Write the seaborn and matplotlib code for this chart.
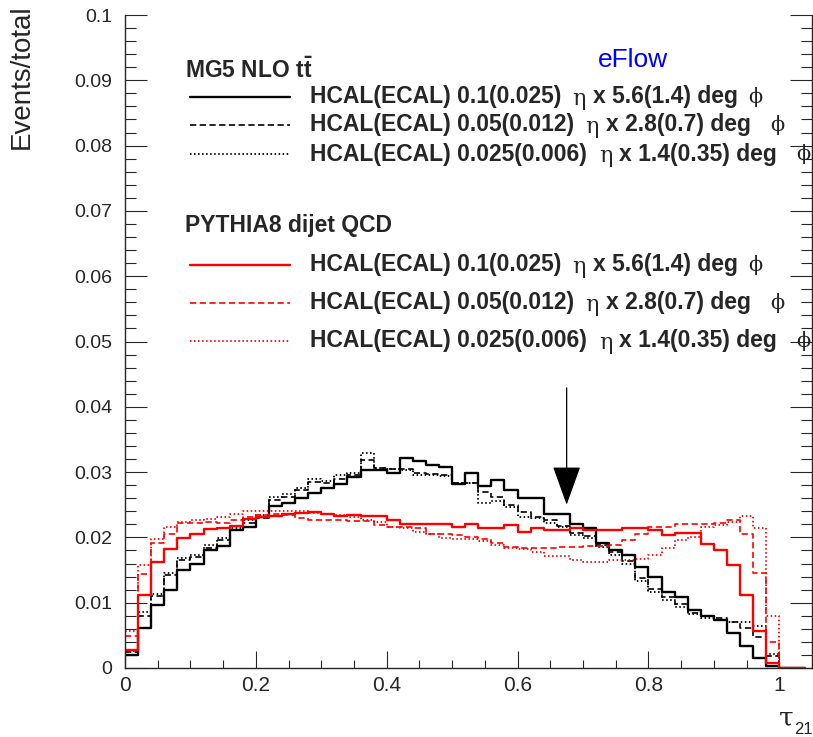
import numpy as np
import pandas as pd
import matplotlib
matplotlib.use("Agg")
import matplotlib.pyplot as plt
import seaborn as sns
from matplotlib.lines import Line2D
from matplotlib.patches import FancyArrowPatch
from matplotlib.ticker import MultipleLocator, FixedLocator, FixedFormatter

# ---------------- data (bin contents, bins of width 0.02 from 0 to 1.04) ----------------
bin_width = 0.02
n_bins = 52

mg5_coarse = [0.0020, 0.0061, 0.0097, 0.0120, 0.0150, 0.0160, 0.0180, 0.0187, 0.0212, 0.0216,
              0.0232, 0.0248, 0.0252, 0.0260, 0.0268, 0.0276, 0.0282, 0.0293, 0.0303, 0.0303,
              0.0299, 0.0322, 0.0317, 0.0311, 0.0308, 0.0282, 0.0299, 0.0279, 0.0288, 0.0272,
              0.0261, 0.0261, 0.0236, 0.0236, 0.0220, 0.0214, 0.0192, 0.0180, 0.0173, 0.0154,
              0.0140, 0.0117, 0.0109, 0.0089, 0.0079, 0.0074, 0.0053, 0.0034, 0.0016, 0.0003,
              0.0, 0.0]
mg5_medium = [0.0025, 0.0079, 0.0110, 0.0142, 0.0165, 0.0170, 0.0184, 0.0196, 0.0211, 0.0222,
              0.0230, 0.0258, 0.0262, 0.0272, 0.0285, 0.0284, 0.0290, 0.0296, 0.0318, 0.0306,
              0.0305, 0.0304, 0.0298, 0.0297, 0.0295, 0.0283, 0.0283, 0.0270, 0.0262, 0.0250,
              0.0239, 0.0232, 0.0226, 0.0218, 0.0206, 0.0202, 0.0188, 0.0177, 0.0164, 0.0138,
              0.0121, 0.0108, 0.0098, 0.0084, 0.0080, 0.0076, 0.0070, 0.0062, 0.0047, 0.0018,
              0.0, 0.0]
mg5_fine = [0.0026, 0.0086, 0.0114, 0.0146, 0.0168, 0.0173, 0.0188, 0.0199, 0.0214, 0.0227,
            0.0234, 0.0262, 0.0266, 0.0276, 0.0290, 0.0286, 0.0296, 0.0298, 0.0330, 0.0307,
            0.0305, 0.0303, 0.0296, 0.0296, 0.0294, 0.0283, 0.0283, 0.0253, 0.0255, 0.0247,
            0.0231, 0.0229, 0.0222, 0.0216, 0.0203, 0.0199, 0.0186, 0.0173, 0.0160, 0.0133,
            0.0116, 0.0104, 0.0093, 0.0082, 0.0077, 0.0073, 0.0071, 0.0071, 0.0065, 0.0022,
            0.0, 0.0]
pythia_coarse = [0.0028, 0.0112, 0.0163, 0.0182, 0.0199, 0.0205, 0.0213, 0.0214, 0.0217, 0.0228,
                 0.0231, 0.0233, 0.0236, 0.0238, 0.0239, 0.0236, 0.0233, 0.0234, 0.0233, 0.0233,
                 0.0227, 0.0221, 0.0221, 0.0221, 0.0221, 0.0216, 0.0220, 0.0214, 0.0214, 0.0219,
                 0.0209, 0.0214, 0.0211, 0.0211, 0.0215, 0.0212, 0.0211, 0.0211, 0.0215, 0.0214,
                 0.0212, 0.0204, 0.0207, 0.0207, 0.0190, 0.0180, 0.0158, 0.0112, 0.0056, 0.0008,
                 0.0, 0.0]
pythia_medium = [0.0049, 0.0144, 0.0192, 0.0205, 0.0222, 0.0222, 0.0224, 0.0222, 0.0227, 0.0232,
                 0.0235, 0.0236, 0.0234, 0.0230, 0.0227, 0.0226, 0.0227, 0.0225, 0.0225, 0.0219,
                 0.0216, 0.0216, 0.0214, 0.0205, 0.0205, 0.0204, 0.0201, 0.0197, 0.0191, 0.0186,
                 0.0184, 0.0184, 0.0184, 0.0186, 0.0186, 0.0187, 0.0187, 0.0188, 0.0196, 0.0205,
                 0.0216, 0.0216, 0.0220, 0.0221, 0.0221, 0.0222, 0.0226, 0.0205, 0.0145, 0.0040,
                 0.0, 0.0]
pythia_fine = [0.0056, 0.0158, 0.0197, 0.0216, 0.0224, 0.0227, 0.0228, 0.0231, 0.0236, 0.0240,
               0.0241, 0.0240, 0.0240, 0.0240, 0.0238, 0.0236, 0.0234, 0.0232, 0.0227, 0.0224,
               0.0216, 0.0214, 0.0209, 0.0205, 0.0199, 0.0198, 0.0197, 0.0194, 0.0188, 0.0184,
               0.0183, 0.0178, 0.0171, 0.0171, 0.0165, 0.0163, 0.0163, 0.0165, 0.0165, 0.0167,
               0.0173, 0.0184, 0.0196, 0.0201, 0.0216, 0.0219, 0.0224, 0.0233, 0.0214, 0.0080,
               0.0, 0.0]

granularities = ["HCAL(ECAL) 0.1(0.025)", "HCAL(ECAL) 0.05(0.012)", "HCAL(ECAL) 0.025(0.006)"]
phi_parts = ["x 5.6(1.4) deg", "x 2.8(0.7) deg", "x 1.4(0.35) deg"]
x_tick_values = [0, 0.2, 0.4, 0.6, 0.8, 1.0]
x_tick_labels = ["0", "0.2", "0.4", "0.6", "0.8", "1"]
y_tick_values = [0, 0.01, 0.02, 0.03, 0.04, 0.05, 0.06, 0.07, 0.08, 0.09, 0.1]
y_tick_labels = ["0", "0.01", "0.02", "0.03", "0.04", "0.05", "0.06", "0.07", "0.08", "0.09", "0.1"]
cut_value = 0.675
arrow_top, arrow_tip = 0.0429, 0.025

# ---------------- style ----------------
sns.set_style("ticks")
plt.rcParams["font.family"] = ["Liberation Sans", "DejaVu Sans"]
plt.rcParams["mathtext.fontset"] = "custom"
plt.rcParams["mathtext.bf"] = "Liberation Sans:bold"
plt.rcParams["mathtext.rm"] = "Liberation Sans"
plt.rcParams["lines.scale_dashes"] = False

W, H = 813, 737
fig = plt.figure(figsize=(W / 100, H / 100), dpi=100)
ax = fig.add_axes([125 / W, 1 - 668 / H, (812 - 125) / W, (668 - 15) / H])

edges = [round(i * bin_width, 4) for i in range(n_bins + 1)]
centers = [(edges[i] + edges[i + 1]) / 2 for i in range(n_bins)]

DASH = (0, (4.5, 2.5))
DOT = (0, (1.1, 1.8))
series = [
    (mg5_coarse, "black", "-", 1.7),
    (mg5_medium, "black", DASH, 1.2),
    (mg5_fine, "black", DOT, 1.3),
    (pythia_coarse, "red", "-", 1.7),
    (pythia_medium, "red", DASH, 1.2),
    (pythia_fine, "red", DOT, 1.3),
]
for vals, col, ls, lw in series:
    df = pd.DataFrame({"tau21": centers, "frac": vals})
    sns.histplot(data=df, x="tau21", weights="frac", bins=edges, element="step",
                 fill=False, color=col, linestyle=ls, linewidth=lw, ax=ax)

ax.set_xlim(0, 1.05)
ax.set_ylim(0, 0.1)
ax.set_xlabel("")
ax.set_ylabel("")
ax.xaxis.set_major_locator(FixedLocator(x_tick_values))
ax.xaxis.set_major_formatter(FixedFormatter(x_tick_labels))
ax.xaxis.set_minor_locator(MultipleLocator(0.05))
ax.yaxis.set_major_locator(FixedLocator(y_tick_values))
ax.yaxis.set_major_formatter(FixedFormatter(y_tick_labels))
ax.yaxis.set_minor_locator(MultipleLocator(0.002))
ax.tick_params(axis="y", which="major", direction="in", length=15.5, width=0.8,
               labelsize=14, pad=9, right=True, left=True)
ax.tick_params(axis="y", which="minor", direction="in", length=7.8, width=0.8,
               right=True, left=True)
ax.tick_params(axis="x", which="major", direction="in", length=12, width=0.8,
               labelsize=15, pad=6)
ax.tick_params(axis="x", which="minor", direction="in", length=6, width=0.8)
for s in ["left", "bottom", "right"]:
    ax.spines[s].set_linewidth(1.0)
ax.spines["top"].set_visible(False)

# arrow marking the cut
arr = FancyArrowPatch((cut_value, arrow_top), (cut_value, arrow_tip),
                      arrowstyle="-|>,head_length=25,head_width=9", mutation_scale=1,
                      lw=0.9, color="black", shrinkA=0, shrinkB=0)
ax.add_patch(arr)

def fx(px):
    return px / W

def fy(py):
    return 1 - py / H

# axis titles
fig.text(fx(22), fy(4), "Events/total", rotation=90, ha="center", va="top", fontsize=20)
fig.text(fx(779), fy(718), "τ", family=["DejaVu Serif"], fontsize=19, ha="left", va="center")
fig.text(fx(794), fy(729), "21", fontsize=12, ha="left", va="center")

# eFlow label
fig.text(fx(598), fy(60), "eFlow", color="#0000ff", fontsize=19, ha="left", va="center")

# legend
fig.text(fx(185), fy(70), r"MG5 NLO $\mathbf{t\bar{t}}$", fontsize=16.5, fontweight="bold",
         ha="left", va="center")
fig.text(fx(185), fy(225), "PYTHIA8 dijet QCD", fontsize=16.5, fontweight="bold",
         ha="left", va="center")

line_ys = [[97, 125, 154], [265, 303, 341]]
colors = ["black", "red"]
styles = [("-", 1.7), (DASH, 1.2), (DOT, 1.3)]
eta_x = [572, 585, 599]
xpart_x = [593, 606, 619]
phi_x = [748, 770, 796]
for g in range(2):
    for i in range(3):
        y = line_ys[g][i]
        ls, lw = styles[i]
        fig.add_artist(Line2D([fx(190), fx(290)], [fy(y), fy(y)], color=colors[g],
                              linestyle=ls, linewidth=lw))
        fig.text(fx(310), fy(y), granularities[i], fontsize=16.5, fontweight="bold",
                 ha="left", va="center")
        fig.text(fx(eta_x[i]), fy(y + 2), "η", family=["DejaVu Serif"], fontsize=16,
                 ha="left", va="center")
        fig.text(fx(xpart_x[i]), fy(y), phi_parts[i], fontsize=16.5, fontweight="bold",
                 ha="left", va="center")
        fig.text(fx(phi_x[i]), fy(y), "ϕ", family=["DejaVu Serif"], fontsize=15,
                 ha="left", va="center")

fig.savefig("out.png", dpi=100, facecolor="white")
